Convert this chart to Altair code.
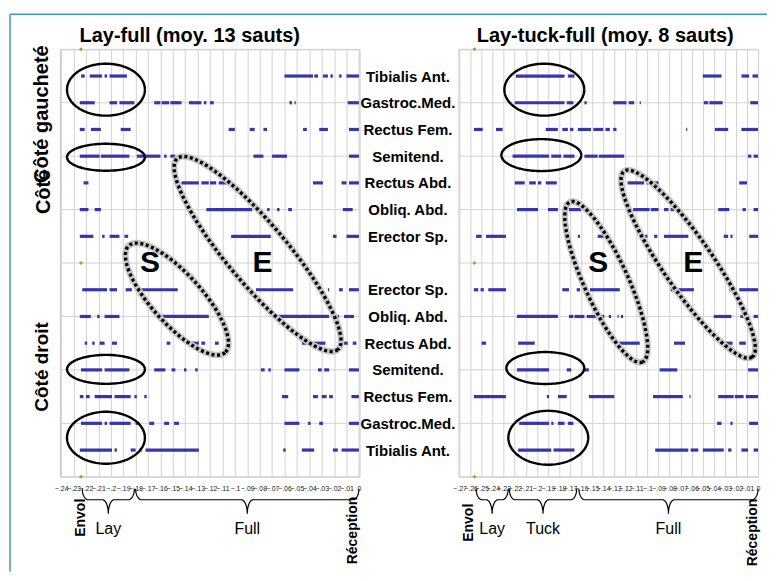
import math
import altair as alt
import pandas as pd

# ---------------- data ----------------
muscles = ["Tibialis Ant.", "Gastroc.Med.", "Rectus Fem.", "Semitend.",
           "Rectus Abd.", "Obliq. Abd.", "Erector Sp."]
# rows 1..7 = left side (top), row 8 = gap, rows 9..15 = right side (mirrored)
row_ids = [1, 2, 3, 4, 5, 6, 7, 9, 10, 11, 12, 13, 14, 15]
row_names = muscles + muscles[::-1]

# activity bursts (start, end) in seconds before landing — Lay-full
left_segments = [
    [(-.224, -.221), (-.217, -.207), (-.205, -.203), (-.201, -.187), (-.060, -.037), (-.036, -.033), (-.029, -.025), (-.023, -.021), (-.016, -.014), (-.010, 0)],
    [(-.225, -.213), (-.201, -.195), (-.193, -.181), (-.165, -.160), (-.159, -.153), (-.152, -.143), (-.137, -.127), (-.125, -.123), (-.120, -.117), (-.056, -.054), (-.052, -.051), (-.009, 0)],
    [(-.225, -.221), (-.216, -.208), (-.192, -.184), (-.105, -.100), (-.088, -.084), (-.077, -.074), (-.045, -.042), (-.032, -.025), (-.008, 0)],
    [(-.225, -.209), (-.208, -.185), (-.179, -.160), (-.157, -.155), (-.152, -.148), (-.085, -.077), (-.070, -.058), (-.008, 0)],
    [(-.222, -.218), (-.143, -.129), (-.127, -.121), (-.120, -.115), (-.113, -.103), (-.037, -.029), (-.014, -.010), (-.008, 0)],
    [(-.225, -.218), (-.213, -.208), (-.123, -.086), (-.074, -.072), (-.066, -.064), (-.057, -.054), (-.013, -.005)],
    [(-.225, -.214), (-.207, -.205), (-.201, -.193), (-.189, -.186), (-.103, -.071), (-.021, -.018), (-.010, 0)],
    [(-.223, -.203), (-.201, -.195), (-.188, -.183), (-.180, -.146), (-.083, -.053), (-.025, -.024), (-.016, -.013), (-.008, 0)],
    [(-.225, -.216), (-.211, -.209), (-.205, -.193), (-.161, -.121), (-.066, -.024), (-.020, -.016), (-.012, -.004)],
    [(-.221, -.219), (-.215, -.213), (-.209, -.205), (-.199, -.195), (-.155, -.152), (-.135, -.129), (-.127, -.124), (-.116, -.113), (-.046, -.027), (-.012, -.009), (-.005, -.002)],
    [(-.224, -.207), (-.205, -.185), (-.165, -.156), (-.151, -.148), (-.141, -.139), (-.132, -.130), (-.079, -.076), (-.073, -.071), (-.060, -.048), (-.033, -.030), (-.028, -.024), (-.008, 0)],
    [(-.225, -.222), (-.220, -.217), (-.213, -.199), (-.197, -.184), (-.181, -.179), (-.173, -.171), (-.062, -.057), (-.037, -.033), (-.030, -.026), (-.024, -.021), (-.006, 0)],
    [(-.224, -.207), (-.205, -.203), (-.201, -.184), (-.180, -.177), (-.169, -.165), (-.157, -.153), (-.149, -.145), (-.060, -.048), (-.041, -.039), (-.032, -.029), (-.008, 0)],
    [(-.225, -.199), (-.197, -.195), (-.184, -.180), (-.177, -.175), (-.172, -.129), (-.061, -.059), (-.046, -.036), (-.021, -.017), (-.014, 0)],
]

# Lay-tuck-full
right_segments = [
    [(-.219, -.175), (-.172, -.166), (-.050, -.033), (-.015, -.008), (-.005, 0)],
    [(-.220, -.175), (-.173, -.167), (-.157, -.155), (-.131, -.119), (-.117, -.112), (-.107, -.106), (-.049, -.045), (-.044, -.032), (-.007, 0)],
    [(-.257, -.249), (-.237, -.231), (-.192, -.181), (-.177, -.172), (-.170, -.167), (-.163, -.151), (-.149, -.140), (-.138, -.134), (-.131, -.128), (-.065, -.064), (-.039, -.027), (-.015, 0)],
    [(-.222, -.189), (-.187, -.178), (-.176, -.166), (-.157, -.145), (-.144, -.121), (-.009, -.006), (-.004, 0)],
    [(-.220, -.211), (-.207, -.201), (-.199, -.196), (-.192, -.182), (-.118, -.103), (-.101, -.090), (-.017, -.010)],
    [(-.218, -.199), (-.190, -.181), (-.171, -.160), (-.113, -.098), (-.097, -.090), (-.085, -.081), (-.079, -.076), (-.036, -.026), (-.014, -.011), (-.004, 0)],
    [(-.255, -.250), (-.246, -.228), (-.163, -.161), (-.145, -.135), (-.103, -.100), (-.094, -.091), (-.085, -.063), (-.031, -.027), (-.025, -.023), (-.008, 0)],
    [(-.257, -.253), (-.251, -.248), (-.244, -.228), (-.177, -.171), (-.164, -.161), (-.152, -.125), (-.079, -.058), (-.026, -.023), (-.017, 0)],
    [(-.218, -.181), (-.171, -.167), (-.166, -.157), (-.155, -.139), (-.135, -.133), (-.127, -.126), (-.124, -.122), (-.040, -.024), (-.016, -.008), (-.004, 0)],
    [(-.250, -.246), (-.217, -.202), (-.126, -.107), (-.076, -.066), (-.035, -.023), (-.017, -.011)],
    [(-.218, -.189), (-.173, -.169), (-.157, -.153), (-.089, -.073), (-.009, 0)],
    [(-.257, -.228), (-.191, -.189), (-.181, -.173), (-.153, -.130), (-.095, -.068), (-.062, -.061), (-.036, -.022), (-.021, -.013), (-.011, 0)],
    [(-.216, -.189), (-.187, -.185), (-.181, -.175), (-.172, -.167), (-.037, -.033), (-.025, -.023), (-.008, 0)],
    [(-.217, -.187), (-.185, -.166), (-.093, -.063), (-.061, -.054), (-.050, -.031), (-.027, -.024), (-.015, -.009), (-.004, 0)],
]

left_ticks = [round(-0.01 * i, 2) for i in range(24, -1, -1)]
right_ticks = [round(-0.01 * i, 2) for i in range(27, -1, -1)]

# phase braces (label, start, end)
left_phases = [("Lay", -0.223, -0.181), ("Full", -0.180, 0.0)]
right_phases = [("Lay", -0.255, -0.226), ("Tuck", -0.225, -0.164), ("Full", -0.162, 0.0)]

# annotation ellipses: (style, centre time, centre row, semi-axis a px, semi-axis b px, angle deg)
left_ellipses = [
    ("solid", -0.2039, 1.51, 39, 26, 0),
    ("solid", -0.2039, 4.04, 39, 13.5, 0),
    ("solid", -0.2039, 11.98, 39, 14.5, 0),
    ("solid", -0.2039, 14.54, 39, 26, 0),
    ("dotted", -0.0817, 7.66, 125, 30, 50),
    ("dotted", -0.1467, 9.35, 72, 25, 48),
]
right_ellipses = [
    ("solid", -0.1933, 1.51, 40, 26, 0),
    ("solid", -0.1960, 3.96, 40, 16, 0),
    ("solid", -0.1924, 11.93, 39, 16, 0),
    ("solid", -0.1897, 14.54, 40, 27, 0),
    ("dotted", -0.1373, 8.71, 88, 22, 65.6),
    ("dotted", -0.0632, 8.04, 113, 25, 55.5),
]
left_letters = [("S", -0.1685, 8.0), ("E", -0.0777, 8.0)]
right_letters = [("S", -0.1445, 8.0), ("E", -0.0587, 8.0)]

titles = ["Lay-full (moy. 13 sauts)", "Lay-tuck-full (moy. 8 sauts)"]

# ---------------- layout constants ----------------
W, H = 300, 428
NROWS = 16
PXROW = H / NROWS
FONT = "Liberation Sans"
BLUE = "#3535ad"
GRID = "#d2d2d2"


def seg_frame(segs):
    rows = []
    for rid, name, lst in zip(row_ids, row_names, segs):
        for a, b in lst:
            rows.append({"row": rid, "muscle": name, "t0": a, "t1": b})
    return pd.DataFrame(rows)


def ellipse_frame(ells, lx, style):
    out = []
    n = 120
    for i, (st, tc, rc, a, b, ang) in enumerate(ells):
        if st != style:
            continue
        th = math.radians(ang)
        for k in range(n + 1):
            ph = 2 * math.pi * k / n
            dx = a * math.cos(ph) * math.cos(th) - b * math.sin(ph) * math.sin(th)
            dy = a * math.cos(ph) * math.sin(th) + b * math.sin(ph) * math.cos(th)
            out.append({"id": i, "k": k, "t": tc + dx / lx, "row": rc + dy / PXROW})
    return pd.DataFrame(out)


def brace_frame(phases, lx):
    ytop = (487 - 47) / PXROW
    ybar = (498 - 47) / PXROW
    ycus = (512 - 47) / PXROW
    r = 6 / lx
    out = []
    for i, (lab, x0, x1) in enumerate(phases):
        xm = (x0 + x1) / 2
        pts = []
        m = 10
        for j in range(m + 1):
            p = math.pi / 2 * j / m
            pts.append((x0 + r - r * math.cos(p), ytop + (ybar - ytop) * math.sin(p)))
        for j in range(m + 1):
            p = math.pi / 2 * j / m
            pts.append((xm - r + r * math.sin(p), ybar + (ycus - ybar) * (1 - math.cos(p))))
        for j in range(m + 1):
            p = math.pi / 2 * j / m
            pts.append((xm + r - r * math.cos(p), ybar + (ycus - ybar) * (1 - math.sin(p))))
        for j in range(m + 1):
            p = math.pi / 2 * j / m
            pts.append((x1 - r + r * math.sin(p), ybar - (ybar - ytop) * (1 - math.cos(p))))
        for k, (tx, ty) in enumerate(pts):
            out.append({"id": i, "k": k, "t": tx, "row": ty})
    return pd.DataFrame(out)


one = pd.DataFrame({"a": [0]})


def panel(segs, domain, ticks, title, title_x, phases, ells, letters,
          envol_mark, envol_txt, recep_txt, show_labels, extras):
    lx = W / (domain[1] - domain[0])
    xs = alt.Scale(domain=domain, nice=False, zero=False)
    ys = alt.Scale(domain=[0, NROWS], reverse=True, nice=False, zero=False)
    xaxis = alt.Axis(values=ticks, grid=True, gridColor=GRID, gridWidth=1,
                     ticks=False, domain=False, title=None,
                     labelExpr="datum.value == 0 ? '0' : replace(format(datum.value, '.2~f'), '0.', '.')",
                     labelFontSize=7, labelFont=FONT, labelColor="#222222",
                     labelPadding=8, labelOverlap=False, labelFlush=False, labelBound=False)
    if show_labels:
        lookup = dict(zip(row_ids, row_names))
        expr = "[" + ",".join("'" + lookup.get(i, "") + "'" for i in range(NROWS + 1)) + "][datum.value]"
        yaxis = alt.Axis(orient="right", values=row_ids, labelExpr=expr, grid=False,
                         ticks=False, domain=False, title=None, labelAlign="center",
                         labelBaseline="middle",
                         labelPadding=48, labelFontSize=15, labelFontWeight="bold",
                         labelFont=FONT, labelColor="black")
    else:
        yaxis = None

    def X(f):
        return alt.X(f, type="quantitative", scale=xs, axis=xaxis)

    def Y(f):
        return alt.Y(f, type="quantitative", scale=ys, axis=yaxis)

    hgrid = alt.Chart(pd.DataFrame({"row": list(range(0, NROWS + 1, 2))})).mark_rule(
        color=GRID, strokeWidth=1).encode(y=Y("row"), x=alt.value(0), x2=alt.value(W))

    bars = alt.Chart(seg_frame(segs)).mark_rule(color=BLUE, strokeWidth=3.2, strokeCap="butt").encode(
        x=X("t0"), x2=alt.X2("t1"), y=Y("row"), tooltip=["muscle:N", "t0:Q", "t1:Q"])

    marks = alt.Chart(pd.DataFrame({"t": [envol_mark] * 3, "row": [0, 8, 16]})).mark_point(
        shape="diamond", filled=True, size=16, color="#b8962e", opacity=1).encode(x=X("t"), y=Y("row"))

    dots = ellipse_frame(ells, lx, "dotted")
    halo = alt.Chart(dots).mark_line(color="#c6c6c6", strokeWidth=6.5).encode(
        x=X("t"), y=Y("row"), detail="id:N", order="k:Q")
    dotl = alt.Chart(dots).mark_line(color="black", strokeWidth=3.4, strokeDash=[3, 2.6], strokeCap="butt").encode(
        x=X("t"), y=Y("row"), detail="id:N", order="k:Q")
    solid = alt.Chart(ellipse_frame(ells, lx, "solid")).mark_line(color="black", strokeWidth=2.4).encode(
        x=X("t"), y=Y("row"), detail="id:N", order="k:Q")

    lett = alt.Chart(pd.DataFrame(letters, columns=["txt", "t", "row"])).mark_text(
        fontSize=30, fontWeight="bold", font=FONT, baseline="middle", color="black").encode(
        x=X("t"), y=Y("row"), text="txt:N")

    braces = alt.Chart(brace_frame(phases, lx)).mark_line(color="black", strokeWidth=1.2).encode(
        x=X("t"), y=Y("row"), detail="id:N", order="k:Q")
    blab = alt.Chart(pd.DataFrame({"txt": [p[0] for p in phases],
                                   "t": [(p[1] + p[2]) / 2 for p in phases],
                                   "row": [(527 - 47) / PXROW] * len(phases)})).mark_text(
        fontSize=16, font=FONT, baseline="middle", color="black").encode(x=X("t"), y=Y("row"), text="txt:N")

    ends = alt.Chart(pd.DataFrame([envol_txt, recep_txt], columns=["txt", "t", "row"])).mark_text(
        angle=270, align="right", baseline="alphabetic", fontSize=14, fontWeight="bold",
        font=FONT, color="black").encode(x=X("t"), y=Y("row"), text="txt:N")

    ttl = alt.Chart(one).mark_text(text=title, fontSize=20, font=FONT, fontWeight="bold",
                                   color="black", align="center", baseline="alphabetic").encode(
        x=alt.value(title_x), y=alt.value(-7))

    layers = [hgrid, bars, marks, halo, dotl, solid, lett, braces, blab, ends, ttl] + extras
    return alt.layer(*layers).properties(width=W, height=H)


side = [
    alt.Chart(one).mark_text(text="Côté gaucheté", angle=270, align="right", baseline="alphabetic",
                             fontSize=20, fontWeight="bold", font=FONT, color="black").encode(
        x=alt.value(-12), y=alt.value(-4)),
    alt.Chart(one).mark_text(text="Côté", angle=270, align="left", baseline="alphabetic",
                             fontSize=20, fontWeight="bold", font=FONT, color="black").encode(
        x=alt.value(-10), y=alt.value(165)),
    alt.Chart(one).mark_text(text="Côté droit", angle=270, align="center", baseline="alphabetic",
                             fontSize=19, fontWeight="bold", font=FONT, color="black").encode(
        x=alt.value(-12), y=alt.value(318)),
    alt.Chart(one).mark_rule(color="#3d95d6", strokeWidth=1.5).encode(
        x=alt.value(-50), y=alt.value(-35), y2=alt.value(523)),
    alt.Chart(one).mark_rule(color="#3d95d6", strokeWidth=1.5).encode(
        x=alt.value(-50), x2=alt.value(708), y=alt.value(-35)),
]

left = panel(left_segments, [-0.241, 0.0005], left_ticks, titles[0], 130,
             left_phases, left_ellipses, left_letters, -0.224,
             ("Envol", -0.2211, (497 - 47) / PXROW), ("Réception", -0.0013, (495 - 47) / PXROW),
             True, side)
right = panel(right_segments, [-0.271, 0.0], right_ticks, titles[1], 147,
              right_phases, right_ellipses, right_letters, -0.2565,
              ("Envol", -0.2575, (502 - 47) / PXROW), ("Réception", -0.0009, (497 - 47) / PXROW),
              False, [])

chart = alt.hconcat(left, right, spacing=99, bounds="flush").properties(
    padding={"left": 0, "top": 4, "right": 0, "bottom": 0}
).configure_view(stroke="#c8c8c8", strokeWidth=1)

chart.save("out.html", embed_options={"renderer": "svg", "actions": False})
